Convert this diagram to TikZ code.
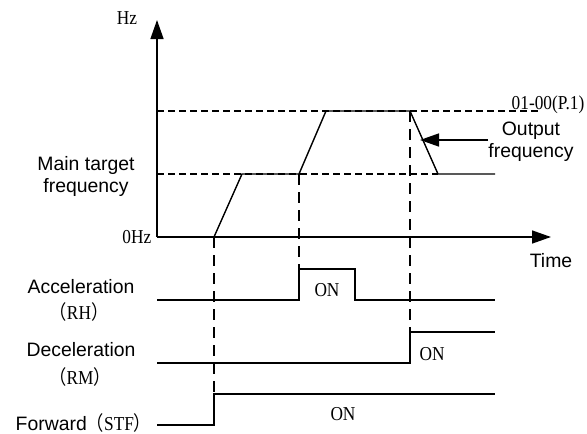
\documentclass[tikz,border=0pt]{standalone}
\usepackage{fontspec}
\usepackage{graphicx}
\setmainfont{Liberation Serif}
\newfontfamily\arialf{Liberation Sans}
\newfontfamily\cjk{Noto Sans CJK SC}
\newcommand{\tallS}[1]{\scalebox{1}[1.14]{#1}}
\usetikzlibrary{arrows.meta}
\begin{document}
\begin{tikzpicture}[x=1pt,y=-1pt,line width=1.4pt,
  sans/.style={font=\arialf\fontsize{19.4}{23}\selectfont,inner sep=0pt,align=center},
  serif/.style={font=\fontsize{17.3}{20}\selectfont,inner sep=0pt},
  hdash/.style={dash pattern=on 7pt off 4pt,line width=1.3pt},
  vdash/.style={dash pattern=on 11pt off 7pt,line width=1.3pt},
  sig/.style={line width=1.4pt},
  bigarrow/.style={-{Triangle[length=19pt,width=13pt]}}]
\useasboundingbox (0,0) rectangle (587,434);
% axes
\coordinate (o) at (157,237);
\coordinate (ytop) at (157,20);
\coordinate (xend) at (551,237);
\draw[bigarrow] (o) -- (ytop);
\draw[bigarrow] (o) -- (xend);
% dashed reference levels
\coordinate (t1) at (157,111);
\coordinate (t2) at (540,111);
\coordinate (m1) at (157,174);
\coordinate (m2) at (438,174);
\draw[hdash] (t1) -- (t2);
\draw[hdash] (m1) -- (m2);
% output frequency curve
\coordinate (c0) at (214,237);
\coordinate (c1) at (242,174);
\coordinate (c2) at (299,174);
\coordinate (c3) at (326,111);
\coordinate (c4) at (410,111);
\coordinate (c5) at (438,174);
\coordinate (c6) at (495,174);
\draw[sig,line join=miter] (c0) -- (c1) -- (c2) -- (c3) -- (c4) -- (c5) -- (c6);
% acceleration signal
\coordinate (a0) at (157,300);
\coordinate (a1) at (299,300);
\coordinate (a2) at (299,269);
\coordinate (a3) at (355,269);
\coordinate (a4) at (355,300);
\coordinate (a5) at (495,300);
\draw[sig] (a0) -- (a1) -- (a2) -- (a3) -- (a4) -- (a5);
% deceleration signal
\coordinate (d0) at (157,363);
\coordinate (d1) at (410,363);
\coordinate (d2) at (410,332);
\coordinate (d3) at (495,332);
\draw[sig] (d0) -- (d1) -- (d2) -- (d3);
% forward signal
\coordinate (f0) at (157,425);
\coordinate (f1) at (214,425);
\coordinate (f2) at (214,394);
\coordinate (f3) at (495,394);
\draw[sig] (f0) -- (f1) -- (f2) -- (f3);
% vertical dashed lines
\draw[vdash] (c0) -- (f2);
\draw[vdash] (c2) -- (a2);
\draw[vdash] (c4) -- (d2);
% output frequency arrow
\coordinate (oa1) at (488,140);
\coordinate (oa2) at (420,140);
\draw[bigarrow] (oa1) -- (oa2);
% labels
\node[serif] (hz) at (127,18) {\tallS{Hz}};
\node[serif,anchor=east] (zhz) at (152,237) {\tallS{0Hz}};
\node[serif,anchor=base west] (p1) at (511,109) {\tallS{01-00(P.1)}};
\node[sans] (of) at (531,142) {Output\\[-1pt]frequency};
\node[sans] (mtf) at (86,176) {Main target\\[-1pt]frequency};
\node[sans] (time) at (551,261) {Time};
\node[sans] (acc) at (81,287) {Acceleration};
\node[serif] (rh) at (79,312) {\tallS{{\cjk （}RH{\cjk ）}}};
\node[sans] (dec) at (81,350) {Deceleration};
\node[serif] (rm) at (80,377) {\tallS{{\cjk （}RM{\cjk ）}}};
\node[sans,anchor=west] (fwd) at (15,423) {Forward{\rmfamily\fontsize{17.3}{20}\selectfont\tallS{{\cjk （}STF{\cjk ）}}}};
\node[serif] (on1) at (327,290) {\tallS{ON}};
\node[serif] (on2) at (432,354) {\tallS{ON}};
\node[serif] (on3) at (343,414) {\tallS{ON}};
\end{tikzpicture}
\end{document}
